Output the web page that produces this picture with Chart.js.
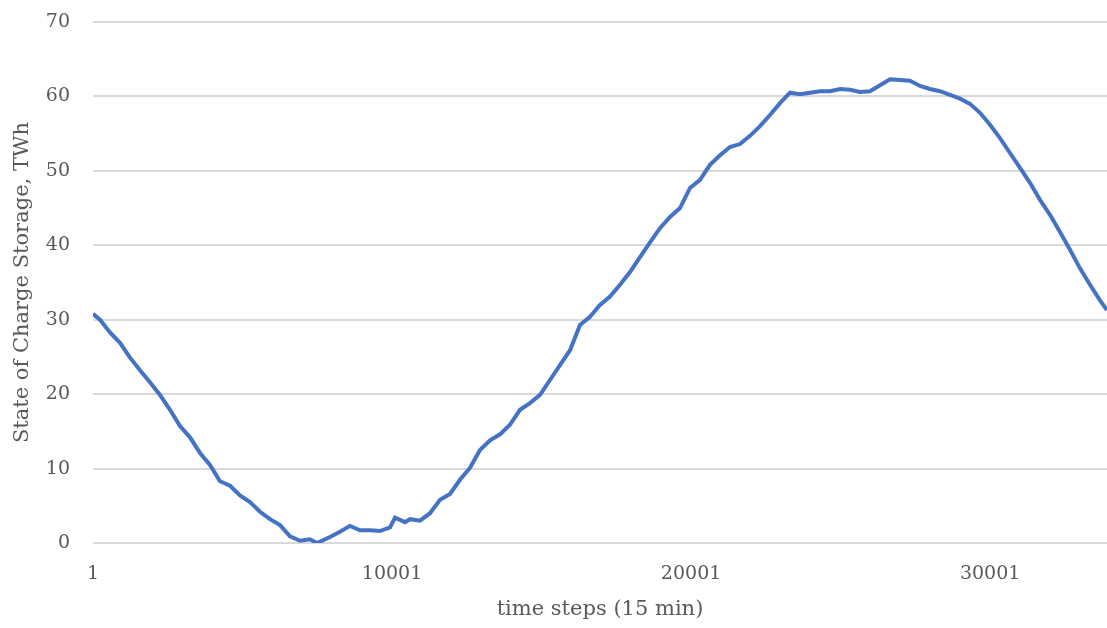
<!DOCTYPE html>
<html>
<head>
<meta charset="utf-8">
<script src="https://cdn.jsdelivr.net/npm/chart.js@4.4.0/dist/chart.umd.min.js"></script>
<style>
  html, body { margin: 0; padding: 0; background: #ffffff; }
  #box { width: 1107px; height: 628px; }
</style>
</head>
<body>
<div id="box"><canvas id="g_soc"></canvas></div>
<script>
// valeurs (pas de temps 15 min, etat de charge en TWh)
const timeSteps = [1, 235, 569, 904, 1238, 1573, 1907, 2241, 2576, 2910, 3244, 3579, 3913, 4248, 4582,
  4917, 5251, 5585, 5920, 6254, 6589, 6923, 7257, 7492, 7926, 8261, 8595, 8930, 9264, 9598, 9933, 10100,
  10434, 10601, 10936, 11270, 11605, 11939, 12273, 12608, 12942, 13277, 13611, 13945, 14280, 14614,
  14949, 15283, 15617, 15952, 16286, 16621, 16955, 17289, 17624, 17958, 18293, 18627, 18961, 19296,
  19630, 19965, 20299, 20633, 20968, 21302, 21637, 21971, 22305, 22640, 22974, 23309, 23643, 23977,
  24312, 24646, 24981, 25315, 25649, 25984, 26318, 26653, 26987, 27321, 27656, 27990, 28325, 28659,
  28993, 29328, 29662, 29997, 30331, 30665, 31000, 31334, 31669, 32003, 32337, 32672, 33006, 33341, 33675, 33909];
const socValues = [30.8, 30.0, 28.3, 26.9, 24.9, 23.2, 21.6, 19.9, 17.9, 15.7, 14.2, 12.1, 10.5, 8.3, 7.7,
  6.4, 5.5, 4.2, 3.2, 2.4, 0.9, 0.3, 0.5, 0.0, 0.8, 1.5, 2.3, 1.7, 1.7, 1.6, 2.1, 3.4,
  2.8, 3.2, 3.0, 4.0, 5.8, 6.6, 8.5, 10.1, 12.5, 13.8, 14.6, 15.9, 17.9, 18.8,
  19.9, 21.9, 23.9, 25.9, 29.3, 30.4, 32.0, 33.1, 34.7, 36.4, 38.4, 40.4, 42.3, 43.8,
  45.0, 47.7, 48.8, 50.8, 52.1, 53.2, 53.6, 54.7, 56.0, 57.5, 59.1, 60.5, 60.3, 60.5,
  60.7, 60.7, 61.0, 60.9, 60.6, 60.7, 61.5, 62.3, 62.2, 62.1, 61.4, 61.0, 60.7, 60.2,
  59.7, 59.0, 57.8, 56.2, 54.4, 52.4, 50.4, 48.4, 46.1, 44.1, 41.8, 39.4, 36.9, 34.7, 32.6, 31.3];
const xTickValues = [1, 10001, 20001, 30001];
const xMax = 33909;

function soc() {
    let context = document.getElementById('g_soc').getContext('2d');
    // on assemble les points {x, y}
    let points = [];
    for (let i = 0; i < timeSteps.length; i++) {
        points.push({ x: timeSteps[i], y: socValues[i] });
    }
    let conData = {
        datasets: [{
            data: points,
            borderColor: '#4472c4',
            borderWidth: 4,
            pointRadius: 0,
            tension: 0,
            fill: false
        }]
    };
    let fontTicks = { family: "'DejaVu Serif', serif", size: 19 };
    let fontTitle = { family: "'DejaVu Serif', serif", size: 21 };
    let options = {
        responsive: true,
        maintainAspectRatio: false,
        animation: false,
        layout: { padding: { top: 22, right: 0, bottom: 0, left: 0 } },
        plugins: {
            legend: { display: false },
            tooltip: { enabled: false }
        },
        scales: {
            x: {
                type: 'linear',
                min: 1,
                max: xMax,
                afterBuildTicks: (scale) => {
                    scale.ticks = xTickValues.map(v => ({ value: v }));
                },
                afterFit: (scale) => {
                    scale.height = 85;
                    scale.paddingLeft = 0;
                    scale.paddingRight = 0;
                },
                grid: { display: false, drawTicks: false },
                border: { display: false },
                ticks: {
                    color: '#595959',
                    font: fontTicks,
                    padding: 20,
                    maxRotation: 0,
                    callback: (v) => String(v)
                },
                title: {
                    display: true,
                    text: 'time steps (15 min)',
                    color: '#595959',
                    font: fontTitle,
                    padding: { top: 0, bottom: 6 }
                }
            },
            y: {
                min: 0,
                max: 70,
                afterFit: (scale) => {
                    scale.width = 93;
                    scale.paddingTop = 0;
                    scale.paddingBottom = 0;
                },
                grid: { color: '#d9d9d9', lineWidth: 2, drawTicks: false },
                border: { display: false },
                ticks: {
                    stepSize: 10,
                    color: '#595959',
                    font: fontTicks,
                    padding: 23
                },
                title: {
                    display: true,
                    text: 'State of Charge Storage, TWh',
                    color: '#595959',
                    font: fontTitle,
                    padding: { top: 10, bottom: 0 }
                }
            }
        }
    };
    let config = {
        type: 'line',
        data: conData,
        options: options
    };
    let gSoc = new Chart(context, config);
}

window.addEventListener('load', () => {
    soc();
});
</script>
</body>
</html>
